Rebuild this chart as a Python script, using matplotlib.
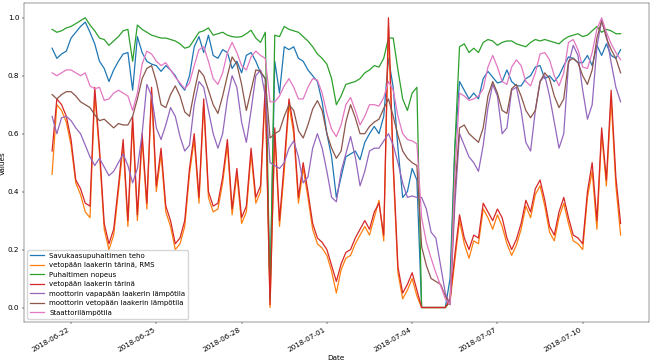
import matplotlib
matplotlib.use('Agg')
import matplotlib.pyplot as plt
import matplotlib.dates as mdates
import pandas as pd

# 4 tunnin välein luetut arvot, 2018-06-21 08:00 -> 2018-07-11 08:00
dates = pd.date_range('2018-06-21 08:00', periods=121, freq='4h')

teho = [0.895, 0.86, 0.875, 0.885, 0.93, 0.95,
        0.97, 0.985, 0.95, 0.91, 0.85, 0.825,
        0.78, 0.82, 0.85, 0.875, 0.88, 0.75,
        0.935, 0.88, 0.85, 0.84, 0.835, 0.815,
        0.835, 0.82, 0.80, 0.77, 0.75, 0.80,
        0.90, 0.935, 0.88, 0.94, 0.87, 0.86,
        0.89, 0.88, 0.825, 0.85, 0.81, 0.87,
        0.88, 0.85, 0.81, 0.79, 0.05, 0.85,
        0.74, 0.90, 0.89, 0.90, 0.86, 0.85,
        0.82, 0.80, 0.78, 0.71, 0.60, 0.52,
        0.38, 0.45, 0.52, 0.53, 0.54, 0.51,
        0.57, 0.60, 0.625, 0.60, 0.66, 0.86,
        0.76, 0.55, 0.38, 0.40, 0.48, 0.44,
        0.0, 0.0, 0.0, 0.0, 0.0, 0.0,
        0.10, 0.55, 0.78, 0.75, 0.72, 0.74,
        0.72, 0.79, 0.815, 0.795, 0.775, 0.78,
        0.82, 0.78, 0.765, 0.765, 0.79, 0.80,
        0.83, 0.835, 0.79, 0.80, 0.78, 0.80,
        0.835, 0.865, 0.86, 0.845, 0.845, 0.87,
        0.835, 0.905, 0.87, 0.91, 0.87, 0.86,
        0.89]

tarina_rms = [0.46, 0.70, 0.68, 0.64, 0.56, 0.43,
              0.39, 0.33, 0.31, 0.74, 0.53, 0.27,
              0.20, 0.25, 0.40, 0.56, 0.28, 0.64,
              0.30, 0.58, 0.34, 0.74, 0.40, 0.53,
              0.33, 0.28, 0.20, 0.22, 0.28, 0.46,
              0.58, 0.36, 0.70, 0.38, 0.33, 0.34,
              0.43, 0.56, 0.32, 0.46, 0.29, 0.33,
              0.53, 0.36, 0.40, 0.75, 0.0, 0.60,
              0.28, 0.47, 0.70, 0.60, 0.36, 0.48,
              0.38, 0.27, 0.22, 0.205, 0.18, 0.125,
              0.05, 0.13, 0.17, 0.18, 0.22, 0.25,
              0.28, 0.25, 0.31, 0.37, 0.23, 0.97,
              0.48, 0.12, 0.03, 0.06, 0.10, 0.04,
              0.0, 0.0, 0.0, 0.0, 0.0, 0.0,
              0.02, 0.16, 0.30, 0.22, 0.17, 0.23,
              0.22, 0.34, 0.31, 0.27, 0.32, 0.28,
              0.22, 0.18, 0.215, 0.27, 0.35, 0.31,
              0.39, 0.42, 0.35, 0.26, 0.23, 0.31,
              0.36, 0.29, 0.23, 0.22, 0.20, 0.38,
              0.47, 0.27, 0.60, 0.42, 0.72, 0.42,
              0.25]

nopeus = [0.96, 0.95, 0.955, 0.965, 0.97, 0.98,
          0.99, 1.0, 0.975, 0.955, 0.93, 0.925,
          0.905, 0.92, 0.935, 0.955, 0.96, 0.85,
          0.975, 0.96, 0.95, 0.94, 0.935, 0.93,
          0.93, 0.925, 0.92, 0.91, 0.895, 0.90,
          0.925, 0.95, 0.955, 0.965, 0.94, 0.945,
          0.95, 0.94, 0.935, 0.933, 0.935, 0.945,
          0.957, 0.93, 0.915, 0.95, 0.03, 0.94,
          0.935, 0.97, 0.96, 0.955, 0.95, 0.935,
          0.92, 0.90, 0.875, 0.86, 0.84, 0.79,
          0.70, 0.73, 0.77, 0.775, 0.78, 0.79,
          0.81, 0.82, 0.835, 0.83, 0.86, 0.93,
          0.93, 0.82, 0.72, 0.68, 0.74, 0.76,
          0.0, 0.0, 0.0, 0.0, 0.0, 0.0,
          0.02, 0.55, 0.90, 0.91, 0.88, 0.895,
          0.88, 0.915, 0.925, 0.92, 0.905, 0.915,
          0.92, 0.92, 0.91, 0.905, 0.90, 0.915,
          0.925, 0.92, 0.925, 0.92, 0.915, 0.91,
          0.925, 0.935, 0.94, 0.945, 0.935, 0.94,
          0.955, 0.97, 0.95, 0.96, 0.955, 0.945,
          0.945]

tarina = [0.54, 0.72, 0.70, 0.66, 0.58, 0.44,
          0.41, 0.36, 0.35, 0.76, 0.55, 0.29,
          0.22, 0.27, 0.42, 0.58, 0.30, 0.66,
          0.32, 0.60, 0.36, 0.76, 0.42, 0.55,
          0.35, 0.30, 0.22, 0.24, 0.30, 0.48,
          0.60, 0.38, 0.72, 0.40, 0.35, 0.36,
          0.45, 0.58, 0.34, 0.48, 0.31, 0.35,
          0.55, 0.38, 0.42, 0.77, 0.01, 0.62,
          0.30, 0.50, 0.72, 0.62, 0.38, 0.50,
          0.40, 0.29, 0.24, 0.225, 0.20, 0.145,
          0.09, 0.15, 0.19, 0.20, 0.24, 0.27,
          0.30, 0.27, 0.33, 0.36, 0.25, 1.0,
          0.50, 0.14, 0.05, 0.08, 0.12, 0.06,
          0.0, 0.0, 0.0, 0.0, 0.0, 0.0,
          0.03, 0.18, 0.32, 0.24, 0.20, 0.25,
          0.24, 0.36, 0.33, 0.30, 0.34, 0.31,
          0.24, 0.20, 0.235, 0.29, 0.37, 0.33,
          0.41, 0.44, 0.37, 0.28, 0.25, 0.33,
          0.38, 0.31, 0.25, 0.24, 0.22, 0.40,
          0.50, 0.30, 0.62, 0.44, 0.75, 0.45,
          0.29]

vapa_lampo = [0.66, 0.60, 0.655, 0.66, 0.645, 0.62,
              0.60, 0.56, 0.52, 0.49, 0.515, 0.485,
              0.455, 0.47, 0.50, 0.53, 0.49, 0.43,
              0.48, 0.60, 0.77, 0.73, 0.62, 0.58,
              0.63, 0.69, 0.66, 0.59, 0.54, 0.56,
              0.70, 0.78, 0.76, 0.68, 0.60, 0.55,
              0.60, 0.72, 0.80, 0.76, 0.64, 0.57,
              0.68, 0.80, 0.82, 0.73, 0.50, 0.49,
              0.48, 0.50, 0.55, 0.575, 0.52, 0.43,
              0.45, 0.55, 0.60, 0.55, 0.47, 0.38,
              0.365, 0.47, 0.53, 0.59, 0.52, 0.42,
              0.47, 0.54, 0.55, 0.55, 0.575, 0.60,
              0.56, 0.50, 0.43, 0.38, 0.385, 0.38,
              0.38, 0.34, 0.26, 0.24, 0.145, 0.05,
              0.01, 0.35, 0.60, 0.56, 0.52, 0.50,
              0.47, 0.56, 0.69, 0.77, 0.73, 0.60,
              0.62, 0.75, 0.76, 0.68, 0.57, 0.54,
              0.68, 0.78, 0.80, 0.73, 0.64, 0.55,
              0.60, 0.84, 0.905, 0.87, 0.75, 0.65,
              0.70, 0.90, 0.99, 0.94, 0.845, 0.76,
              0.71]

veto_lampo = [0.735, 0.72, 0.735, 0.745, 0.745, 0.73,
              0.71, 0.70, 0.69, 0.665, 0.645, 0.65,
              0.635, 0.62, 0.635, 0.63, 0.63, 0.66,
              0.72, 0.79, 0.825, 0.835, 0.78, 0.70,
              0.69, 0.735, 0.765, 0.73, 0.675, 0.66,
              0.745, 0.82, 0.80, 0.75, 0.70, 0.67,
              0.73, 0.80, 0.865, 0.84, 0.77, 0.68,
              0.75, 0.82, 0.815, 0.79, 0.585, 0.60,
              0.61, 0.66, 0.70, 0.68, 0.61, 0.585,
              0.63, 0.685, 0.714, 0.68, 0.60, 0.55,
              0.515, 0.54, 0.64, 0.70, 0.655, 0.60,
              0.60, 0.625, 0.64, 0.65, 0.687, 0.72,
              0.66, 0.594, 0.54, 0.515, 0.50, 0.49,
              0.21, 0.145, 0.10, 0.09, 0.08, 0.04,
              0.01, 0.40, 0.62, 0.63, 0.60, 0.585,
              0.57, 0.62, 0.73, 0.78, 0.74, 0.68,
              0.67, 0.755, 0.77, 0.73, 0.68, 0.655,
              0.68, 0.78, 0.81, 0.79, 0.73, 0.69,
              0.72, 0.85, 0.86, 0.845, 0.80, 0.77,
              0.82, 0.93, 0.99, 0.93, 0.89, 0.86,
              0.81]

staattori = [0.81, 0.80, 0.81, 0.82, 0.82, 0.81,
             0.80, 0.81, 0.765, 0.755, 0.76, 0.715,
             0.72, 0.74, 0.75, 0.74, 0.73, 0.68,
             0.74, 0.84, 0.885, 0.875, 0.85, 0.835,
             0.845, 0.82, 0.795, 0.775, 0.755, 0.775,
             0.835, 0.89, 0.90, 0.85, 0.79, 0.77,
             0.81, 0.88, 0.915, 0.88, 0.835, 0.82,
             0.865, 0.885, 0.87, 0.86, 0.71, 0.71,
             0.73, 0.765, 0.79, 0.76, 0.72, 0.72,
             0.76, 0.79, 0.785, 0.74, 0.67, 0.615,
             0.59, 0.63, 0.70, 0.725, 0.68, 0.63,
             0.66, 0.70, 0.70, 0.695, 0.725, 0.78,
             0.75, 0.66, 0.60, 0.58, 0.575, 0.565,
             0.31, 0.225, 0.17, 0.12, 0.076, 0.03,
             0.01, 0.45, 0.74, 0.73, 0.715, 0.72,
             0.73, 0.755, 0.83, 0.87, 0.83, 0.78,
             0.77, 0.83, 0.855, 0.835, 0.78, 0.765,
             0.81, 0.875, 0.88, 0.855, 0.80, 0.765,
             0.81, 0.915, 0.925, 0.89, 0.83, 0.825,
             0.88, 0.96, 1.0, 0.95, 0.91, 0.88,
             0.855]

labels = ['Savukaasupuhaltimen teho', 'vetopään laakerin tärinä, RMS',
          'Puhaltimen nopeus', 'vetopään laakerin tärinä',
          'moottorin vapapään laakerin lämpötila',
          'moottorin vetopään laakerin lämpötila', 'Staattorilämpötila']
series = [teho, tarina_rms, nopeus, tarina, vapa_lampo, veto_lampo, staattori]

s = 0.436  # alkuperäinen kuva on pienennetty
plt.rcParams.update({
    'font.size': 5.2,
    'legend.fontsize': 5.0,
    'lines.linewidth': 0.9,
    'axes.linewidth': 0.8 * s,
    'axes.edgecolor': '#333333',
    'xtick.major.size': 3.5 * s,
    'ytick.major.size': 3.5 * s,
    'xtick.major.width': 0.8 * s,
    'ytick.major.width': 0.8 * s,
    'xtick.major.pad': 3.5 * s,
    'ytick.major.pad': 3.5 * s,
    'axes.labelpad': 4 * s,
})

fig = plt.figure(figsize=(6.54, 3.62), dpi=100)
ax = fig.add_axes([0.0362, 0.1105, 0.9562, 0.8804])
for lab, vals in zip(labels, series):
    ax.plot(dates, vals, label=lab)

ax.xaxis.set_major_locator(mdates.DayLocator(bymonthday=range(1, 32, 3)))
ax.xaxis.set_major_formatter(mdates.DateFormatter('%Y-%m-%d'))
plt.setp(ax.get_xticklabels(), rotation=30, ha='right')
ax.set_xlabel('Date')
ax.set_ylabel('Values')
ax.legend(loc='lower left')

fig.savefig('out.png', dpi=100)
